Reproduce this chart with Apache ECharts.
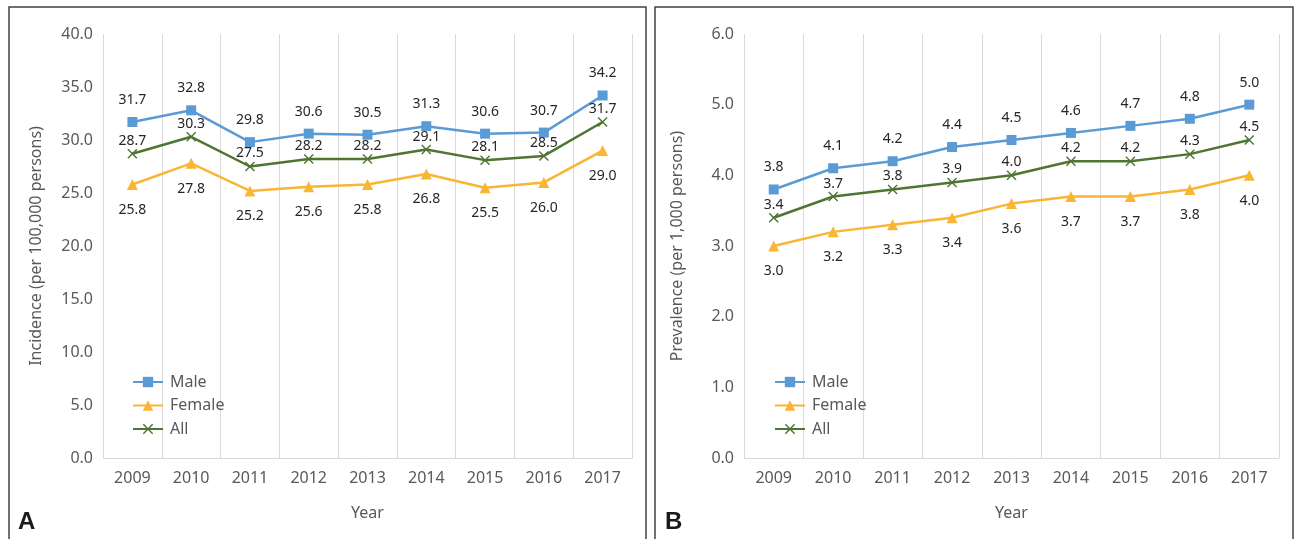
<!DOCTYPE html>
<html>
<head>
<meta charset="utf-8">
<script src="https://cdn.jsdelivr.net/npm/echarts@6/dist/echarts.min.js"></script>
<style>
  html, body { margin: 0; padding: 0; background: #fff; }
  #chart { width: 1295px; height: 539px; }
</style>
</head>
<body>
<div id="chart"></div>
<script>
// Years on the horizontal axis (both panels)
const years = ['2009', '2010', '2011', '2012', '2013', '2014', '2015', '2016', '2017'];

// Panel A: incidence per 100,000 persons
const incidenceMale   = [31.7, 32.8, 29.8, 30.6, 30.5, 31.3, 30.6, 30.7, 34.2];
const incidenceFemale = [25.8, 27.8, 25.2, 25.6, 25.8, 26.8, 25.5, 26.0, 29.0];
const incidenceAll    = [28.7, 30.3, 27.5, 28.2, 28.2, 29.1, 28.1, 28.5, 31.7];

// Panel B: prevalence per 1,000 persons
const prevalenceMale   = [3.8, 4.1, 4.2, 4.4, 4.5, 4.6, 4.7, 4.8, 5.0];
const prevalenceFemale = [3.0, 3.2, 3.3, 3.4, 3.6, 3.7, 3.7, 3.8, 4.0];
const prevalenceAll    = [3.4, 3.7, 3.8, 3.9, 4.0, 4.2, 4.2, 4.3, 4.5];

const FONT = '"Noto Sans", "Open Sans", sans-serif';
const C_MALE = '#5B9BD5';
const C_FEMALE = '#F9B534';
const C_ALL = '#4E7532';
const GRID_LINE = '#D9D9D9';
const AXIS_TEXT = '#595959';
const LABEL_TEXT = '#262626';
const CROSS = 'path://M0,1 L1,0 L5,4 L9,0 L10,1 L6,5 L10,9 L9,10 L5,6 L1,10 L0,9 L4,5 Z';

const chart = echarts.init(document.getElementById('chart'), null, { renderer: 'canvas' });

function xAxisFor(gridIndex) {
  return {
    type: 'category', gridIndex, data: years, boundaryGap: true,
    name: 'Year', nameLocation: 'middle', nameGap: 47,
    nameTextStyle: { color: AXIS_TEXT, fontSize: 16, fontFamily: FONT },
    axisLine: { show: true, lineStyle: { color: GRID_LINE, width: 1 } },
    axisTick: { show: false },
    axisLabel: { color: AXIS_TEXT, fontSize: 16, fontFamily: FONT, margin: 12 },
    splitLine: { show: true, lineStyle: { color: GRID_LINE, width: 1 } }
  };
}

function yAxisFor(gridIndex, max, interval, title) {
  return {
    type: 'value', gridIndex, min: 0, max, interval,
    name: title, nameLocation: 'middle', nameGap: 59,
    nameTextStyle: { color: AXIS_TEXT, fontSize: 16, fontFamily: FONT },
    axisLine: { show: false }, axisTick: { show: false },
    splitLine: { show: false },
    axisLabel: {
      color: AXIS_TEXT, fontSize: 16, fontFamily: FONT, margin: 10,
      formatter: v => v.toFixed(1)
    }
  };
}

function lineSeries(name, data, idx, color, symbol, size, pos, dist) {
  return {
    name, type: 'line', data, xAxisIndex: idx, yAxisIndex: idx,
    symbol, symbolSize: size, showAllSymbol: true,
    lineStyle: { color, width: 2.5 },
    itemStyle: { color },
    label: {
      show: true, position: pos, distance: dist,
      color: LABEL_TEXT, fontSize: 14, fontFamily: FONT,
      formatter: p => p.value.toFixed(1)
    },
    emphasis: { disabled: true },
    animation: false
  };
}

function legendFor(left) {
  return {
    left, top: 369, orient: 'vertical',
    itemWidth: 30, itemHeight: 13, itemGap: 7.5,
    textStyle: { color: AXIS_TEXT, fontSize: 16, fontFamily: FONT, padding: [0, 0, 0, 2] },
    data: ['Male', 'Female', 'All'],
    selectedMode: false
  };
}

chart.setOption({
  backgroundColor: '#fff',
  animation: false,
  grid: [
    { left: 103, top: 34, width: 529, height: 424 },
    { left: 744, top: 34, width: 535, height: 424 }
  ],
  xAxis: [xAxisFor(0), xAxisFor(1)],
  yAxis: [
    yAxisFor(0, 40, 5, 'Incidence (per 100,000 persons)'),
    yAxisFor(1, 6, 1, 'Prevalence (per 1,000 persons)')
  ],
  legend: [legendFor(127), legendFor(769)],
  series: [
    lineSeries('Male', incidenceMale, 0, C_MALE, 'rect', 10, 'top', 10),
    lineSeries('Female', incidenceFemale, 0, C_FEMALE, 'triangle', 11, 'bottom', 13),
    lineSeries('All', incidenceAll, 0, C_ALL, CROSS, 10, 'top', 1),
    lineSeries('Male', prevalenceMale, 1, C_MALE, 'rect', 10, 'top', 10),
    lineSeries('Female', prevalenceFemale, 1, C_FEMALE, 'triangle', 11, 'bottom', 13),
    lineSeries('All', prevalenceAll, 1, C_ALL, CROSS, 10, 'top', 1)
  ],
  graphic: [
    { type: 'rect', shape: { x: 9, y: 7, width: 637, height: 545 },
      style: { fill: 'none', stroke: '#404040', lineWidth: 1.5 }, silent: true },
    { type: 'rect', shape: { x: 655, y: 7, width: 638, height: 545 },
      style: { fill: 'none', stroke: '#404040', lineWidth: 1.5 }, silent: true },
    { type: 'text', left: 18, top: 510,
      style: { text: 'A', fill: '#1a1a1a', font: 'bold 24px "Liberation Sans", Arial, sans-serif' } },
    { type: 'text', left: 665, top: 510,
      style: { text: 'B', fill: '#1a1a1a', font: 'bold 24px "Liberation Sans", Arial, sans-serif' } }
  ]
});
</script>
</body>
</html>
